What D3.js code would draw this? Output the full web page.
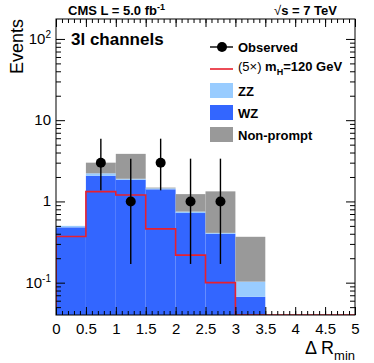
<!DOCTYPE html>
<html>
<head>
<meta charset="utf-8">
<script src="https://cdn.jsdelivr.net/npm/d3@7"></script>
<style>
  body { margin: 0; background: #fff; }
  text { font-family: "Liberation Sans", Arial, sans-serif; }
</style>
</head>
<body>
<div id="chart"></div>
<script>
// bins of Delta R_min, width 0.5
const binEdges = [0, 0.5, 1, 1.5, 2, 2.5, 3, 3.5, 4, 4.5, 5];
const wz        = [0.48, 2.07, 1.85, 1.41, 0.72, 0.40, 0.067, 0, 0, 0];
const zz        = [0.02, 0.15, 0.05, 0.04, 0.03, 0.01, 0.036, 0, 0, 0];
const nonprompt = [0, 0.78, 1.95, 0.03, 0.48, 0.92, 0.264, 0, 0, 0];
const signal    = [0.37, 1.32, 1.2, 0.46, 0.218, 0.1, 0, 0, 0, 0];

const obsX    = [0.75, 1.25, 1.75, 2.25, 2.75];
const obsY    = [3, 1, 3, 1, 1];
const obsLow  = [1.37, 0.17, 1.37, 0.17, 0.17];
const obsHigh = [5.92, 3.36, 5.92, 3.36, 3.36];

const xTicks = [0, 0.5, 1, 1.5, 2, 2.5, 3, 3.5, 4, 4.5, 5];
const xTickLabels = ["0", "0.5", "1", "1.5", "2", "2.5", "3", "3.5", "4", "4.5", "5"];
const yTicks = [0.1, 1, 10, 100];

const width = 374, height = 363;
const margin = { top: 19, right: 19, bottom: 48, left: 56 };
const yMin = 0.04, yMax = 176;

const svg = d3.select("#chart").append("svg")
  .attr("width", width)
  .attr("height", height);

const x = d3.scaleLinear().domain([0, 5]).range([margin.left, width - margin.right]);
const y = d3.scaleLog().domain([yMin, yMax]).range([height - margin.bottom, margin.top]);
const yc = v => y(Math.max(v, yMin));

svg.append("clipPath").attr("id", "plot")
  .append("rect")
  .attr("x", x(0)).attr("y", y(yMax))
  .attr("width", x(5) - x(0)).attr("height", y(yMin) - y(yMax));

// stacked backgrounds
const rows = wz.map((d, i) => ({ i, wz: wz[i], zz: zz[i], np: nonprompt[i] }));
const stack = d3.stack().keys(["wz", "zz", "np"])(rows);
const colors = { wz: "#3366ff", zz: "#99ccff", np: "#999999" };

const gBars = svg.append("g").attr("clip-path", "url(#plot)");
stack.forEach(layer => {
  gBars.append("g")
    .attr("fill", colors[layer.key])
    .selectAll("rect")
    .data(layer.filter(d => d[1] - d[0] > 0))
    .join("rect")
      .attr("x", d => x(binEdges[d.data.i]))
      .attr("width", d => x(binEdges[d.data.i + 1]) - x(binEdges[d.data.i]))
      .attr("y", d => yc(d[1]))
      .attr("height", d => yc(d[0]) - yc(d[1]));
});

// signal step line
const pts = [[0, yMin]];
signal.forEach((v, i) => {
  pts.push([binEdges[i], v]);
  pts.push([binEdges[i + 1], v]);
});
pts.push([5, yMin]);
gBars.append("path")
  .datum(pts)
  .attr("fill", "none")
  .attr("stroke", "#e8202e")
  .attr("stroke-width", 1.6)
  .attr("d", d3.line().x(d => x(d[0])).y(d => yc(d[1])));

// observed points
const gObs = svg.append("g");
gObs.selectAll("line")
  .data(obsX)
  .join("line")
    .attr("x1", d => x(d)).attr("x2", d => x(d))
    .attr("y1", (d, i) => y(obsLow[i]))
    .attr("y2", (d, i) => y(obsHigh[i]))
    .attr("stroke", "#000")
    .attr("stroke-width", 1.4);
gObs.selectAll("circle")
  .data(obsX)
  .join("circle")
    .attr("cx", d => x(d))
    .attr("cy", (d, i) => y(obsY[i]))
    .attr("r", 5)
    .attr("fill", "#000");

// axes, ROOT style ticks pointing inward
function noDomain(g) { g.select(".domain").remove(); }

svg.append("g")
  .attr("transform", `translate(0,${y(yMin)})`)
  .call(d3.axisBottom(x).tickValues(xTicks).tickSize(-8).tickPadding(8)
    .tickFormat((d, i) => xTickLabels[i]))
  .call(noDomain)
  .call(g => g.selectAll("text").attr("font-size", 15).attr("fill", "#000")
    .attr("font-family", "Liberation Sans, Arial, sans-serif"));
svg.append("g")
  .attr("transform", `translate(0,${y(yMin)})`)
  .call(d3.axisBottom(x).tickValues(d3.range(0, 51).map(d => d / 10)).tickSize(-4).tickFormat(""))
  .call(noDomain);
svg.append("g")
  .attr("transform", `translate(0,${y(yMax)})`)
  .call(d3.axisTop(x).tickValues(xTicks).tickSize(-8).tickFormat(""))
  .call(noDomain);
svg.append("g")
  .attr("transform", `translate(0,${y(yMax)})`)
  .call(d3.axisTop(x).tickValues(d3.range(0, 51).map(d => d / 10)).tickSize(-4).tickFormat(""))
  .call(noDomain);

const minorY = [];
[0.01, 0.1, 1, 10, 100].forEach(dec => {
  for (let k = 2; k <= 9; k++) {
    const v = dec * k;
    if (v > yMin && v < yMax) minorY.push(v);
  }
});

svg.append("g")
  .attr("transform", `translate(${x(0)},0)`)
  .call(d3.axisLeft(y).tickValues(yTicks).tickSize(-9).tickFormat(""))
  .call(noDomain);
svg.append("g")
  .attr("transform", `translate(${x(0)},0)`)
  .call(d3.axisLeft(y).tickValues(minorY).tickSize(-5).tickFormat(""))
  .call(noDomain);
svg.append("g")
  .attr("transform", `translate(${x(5)},0)`)
  .call(d3.axisRight(y).tickValues(yTicks).tickSize(-9).tickFormat(""))
  .call(noDomain);
svg.append("g")
  .attr("transform", `translate(${x(5)},0)`)
  .call(d3.axisRight(y).tickValues(minorY).tickSize(-5).tickFormat(""))
  .call(noDomain);

// y tick labels with superscripts
const yLab = svg.append("g").attr("font-size", 15).attr("text-anchor", "end");
yTicks.forEach(v => {
  const t = yLab.append("text").attr("x", x(0) - 5).attr("y", y(v) + 5);
  if (v === 1) t.text("1");
  else if (v === 10) t.text("10");
  else {
    const e = Math.round(Math.log10(v));
    t.append("tspan").text("10");
    t.append("tspan").attr("font-size", 10).attr("dy", -6).text(e);
  }
});

// frame
svg.append("rect")
  .attr("x", x(0)).attr("y", y(yMax))
  .attr("width", x(5) - x(0)).attr("height", y(yMin) - y(yMax))
  .attr("fill", "none").attr("stroke", "#000").attr("stroke-width", 1);

// axis titles
svg.append("text")
  .attr("transform", `translate(23,${y(yMax)}) rotate(-90)`)
  .attr("text-anchor", "end")
  .attr("font-size", 18)
  .text("Events");

const xt = svg.append("text")
  .attr("x", x(5)).attr("y", 354)
  .attr("text-anchor", "end")
  .attr("font-size", 18);
xt.append("tspan").text("\u0394 R");
xt.append("tspan").attr("font-size", 13).attr("dy", 6).text("min");

// header
const hl = svg.append("text").attr("x", 68).attr("y", 15)
  .attr("font-size", 13).attr("font-weight", "bold");
hl.append("tspan").text("CMS L = 5.0 fb");
hl.append("tspan").attr("font-size", 9).attr("dy", -5).text("-1");

const hr = svg.append("text").attr("x", 337).attr("y", 15)
  .attr("text-anchor", "end").attr("font-size", 13).attr("font-weight", "bold");
hr.append("tspan").attr("font-weight", "normal").text("\u221A");
hr.append("tspan").text("s = 7 TeV");

svg.append("text")
  .attr("x", 71).attr("y", 45)
  .attr("font-size", 17).attr("font-weight", "bold")
  .text("3l channels");

// legend
const lg = svg.append("g").attr("font-size", 13).attr("font-weight", "bold");
lg.append("line").attr("x1", 210).attr("x2", 233).attr("y1", 47).attr("y2", 47)
  .attr("stroke", "#000").attr("stroke-width", 1.4);
lg.append("circle").attr("cx", 222).attr("cy", 47).attr("r", 5).attr("fill", "#000");
lg.append("text").attr("x", 238).attr("y", 52).text("Observed");

lg.append("line").attr("x1", 210).attr("x2", 233).attr("y1", 69).attr("y2", 69)
  .attr("stroke", "#e8202e").attr("stroke-width", 1.6);
const st = lg.append("text").attr("x", 238).attr("y", 71);
st.append("tspan").attr("font-weight", "normal").text("(5\u00D7) ");
st.append("tspan").text("m");
st.append("tspan").attr("font-size", 9).attr("dy", 4).text("H");
st.append("tspan").attr("dy", -4).text("=120 GeV");

const boxes = [
  { label: "ZZ", key: "zz", y0: 83 },
  { label: "WZ", key: "wz", y0: 105 },
  { label: "Non-prompt", key: "np", y0: 127 }
];
boxes.forEach(b => {
  lg.append("rect").attr("x", 210).attr("y", b.y0).attr("width", 23).attr("height", 15)
    .attr("fill", colors[b.key]);
  lg.append("text").attr("x", 238).attr("y", b.y0 + 13).text(b.label);
});
</script>
</body>
</html>
